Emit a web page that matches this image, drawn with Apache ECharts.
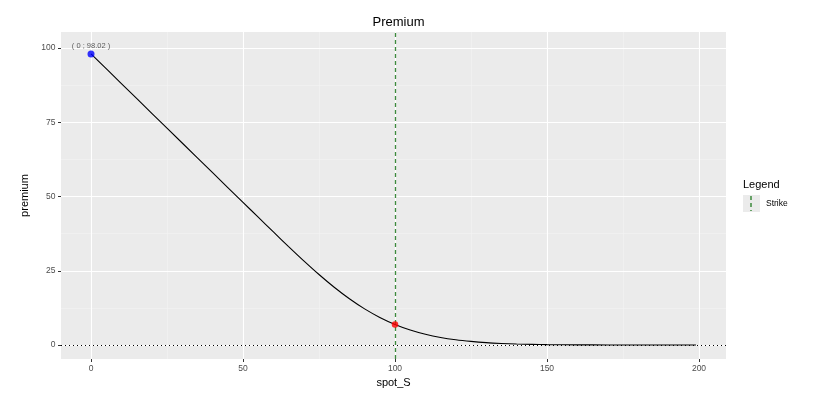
<!DOCTYPE html>
<html>
<head>
<meta charset="utf-8">
<script src="https://cdn.jsdelivr.net/npm/echarts@6/dist/echarts.min.js"></script>
<style>html,body{margin:0;padding:0;background:#fff}#c{width:822px;height:400px}</style>
</head>
<body>
<div id="c"></div>
<script>
// Data
var spotS = [0, 10, 20, 30, 40, 50, 55, 60, 65, 70, 75, 80, 85, 90, 95, 100, 105, 110, 115, 120, 125, 130, 135, 140, 145, 150, 160, 170, 180, 190, 199];
var premium = [98.02, 88.02, 78.02, 68.02, 58.02, 48.03, 43.05, 38.06, 33.14, 28.33, 23.73, 19.44, 15.57, 12.16, 9.29, 6.94, 5.07, 3.63, 2.54, 1.76, 1.21, 0.80, 0.53, 0.34, 0.22, 0.14, 0.05, 0.02, 0.01, 0.00, 0.00];
var xTicks = [0, 50, 100, 150, 200];
var yTicks = [0, 25, 50, 75, 100];
var xMinor = [25, 75, 125, 175];
var yMinor = [12.5, 37.5, 62.5, 87.5];
var strike = 100;
var startPoint = [0, 98.02];
var strikePoint = [100, 6.94];
var titleText = 'Premium';
var xName = 'spot_S';
var yName = 'premium';
var legendTitle = 'Legend';
var legendItem = 'Strike';

var curve = spotS.map(function (s, i) { return [s, premium[i]]; });
var gridStyleMajor = { color: '#ffffff', width: 1.1, type: 'solid' };
var gridStyleMinor = { color: '#f4f4f4', width: 0.6, type: 'solid' };
function vLines(arr, st) { return arr.map(function (v) { return { xAxis: v, lineStyle: st }; }); }
function hLines(arr, st) { return arr.map(function (v) { return { yAxis: v, lineStyle: st }; }); }
var strikeColor = '#3d8a3d';

var chart = echarts.init(document.getElementById('c'), null, { renderer: 'canvas' });
var font = 'Liberation Sans, Arial, sans-serif';
chart.setOption({
  animation: false,
  textStyle: { fontFamily: font },
  title: {
    text: titleText, left: 393.5, top: 11, textAlign: 'center',
    textStyle: { fontSize: 13, fontWeight: 'normal', color: '#000', fontFamily: font }
  },
  grid: { left: 61, right: 96, top: 32, bottom: 41, backgroundColor: '#ebebeb', show: true, borderWidth: 0 },
  xAxis: {
    type: 'value', min: -9.87, max: 208.88,
    name: xName, nameLocation: 'middle', nameGap: 18,
    nameTextStyle: { fontSize: 11, color: '#000', fontFamily: font },
    axisLine: { show: false, onZero: false },
    axisTick: { show: true, customValues: xTicks, length: 3, lineStyle: { color: '#333', width: 1 } },
    axisLabel: { customValues: xTicks, fontSize: 8.5, color: '#4d4d4d', margin: 5, fontFamily: font },
    splitLine: { show: false }
  },
  yAxis: {
    type: 'value', min: -4.71, max: 105.39,
    name: yName, nameLocation: 'middle', nameGap: 22,
    nameTextStyle: { fontSize: 11, color: '#000', fontFamily: font },
    axisLine: { show: false, onZero: false },
    axisTick: { show: true, customValues: yTicks, length: 3, lineStyle: { color: '#333', width: 1 } },
    axisLabel: { customValues: yTicks, fontSize: 8.5, color: '#4d4d4d', margin: 5.5, fontFamily: font },
    splitLine: { show: false }
  },
  series: [
    {
      name: 'grid', type: 'line', data: [], silent: true, z: 0,
      markLine: {
        silent: true, symbol: 'none', label: { show: false }, animation: false, z: 0,
        data: vLines(xMinor, gridStyleMinor).concat(hLines(yMinor, gridStyleMinor))
          .concat(vLines(xTicks, gridStyleMajor)).concat(hLines(yTicks, gridStyleMajor))
      }
    },
    {
      name: 'zero', type: 'line', data: [], silent: true, z: 1,
      markLine: {
        silent: true, symbol: 'none', label: { show: false }, z: 1,
        data: [{ yAxis: 0, lineStyle: { color: '#000', width: 1, type: [1, 3] } }]
      }
    },
    {
      name: 'premium', type: 'line', data: curve, smooth: 0.3, showSymbol: false, z: 3,
      lineStyle: { color: '#000', width: 1.1 }
    },
    {
      name: legendItem, type: 'line', data: [], silent: true, z: 4,
      markLine: {
        silent: true, symbol: 'none', label: { show: false }, z: 4,
        data: [{ xAxis: strike, lineStyle: { color: strikeColor, width: 1.3, type: [4, 3] } }]
      }
    },
    {
      name: 'start', type: 'scatter', data: [startPoint], symbolSize: 7, z: 5,
      itemStyle: { color: '#0000ff' },
      label: {
        show: true, position: 'top', distance: 0,
        formatter: function (p) { return '( ' + p.value[0] + ' ; ' + p.value[1].toFixed(2) + ' )'; },
        fontSize: 7.5, color: '#333', fontFamily: font
      }
    },
    {
      name: 'atStrike', type: 'scatter', data: [strikePoint], symbolSize: 6.5, z: 5,
      itemStyle: { color: '#ff0000' }
    }
  ],
  graphic: [
    { type: 'text', left: 743, top: 179, style: { text: legendTitle, fontSize: 11, fill: '#000', font: '11px ' + font } },
    { type: 'rect', shape: { x: 743, y: 195, width: 17, height: 17 }, style: { fill: '#ebebeb' } },
    { type: 'line', shape: { x1: 751, y1: 196, x2: 751, y2: 211 }, style: { stroke: strikeColor, lineWidth: 1.5, lineDash: [4, 3] } },
    { type: 'text', left: 766, top: 199, style: { text: legendItem, fill: '#000', font: '8.5px ' + font } }
  ]
});
</script>
</body>
</html>
